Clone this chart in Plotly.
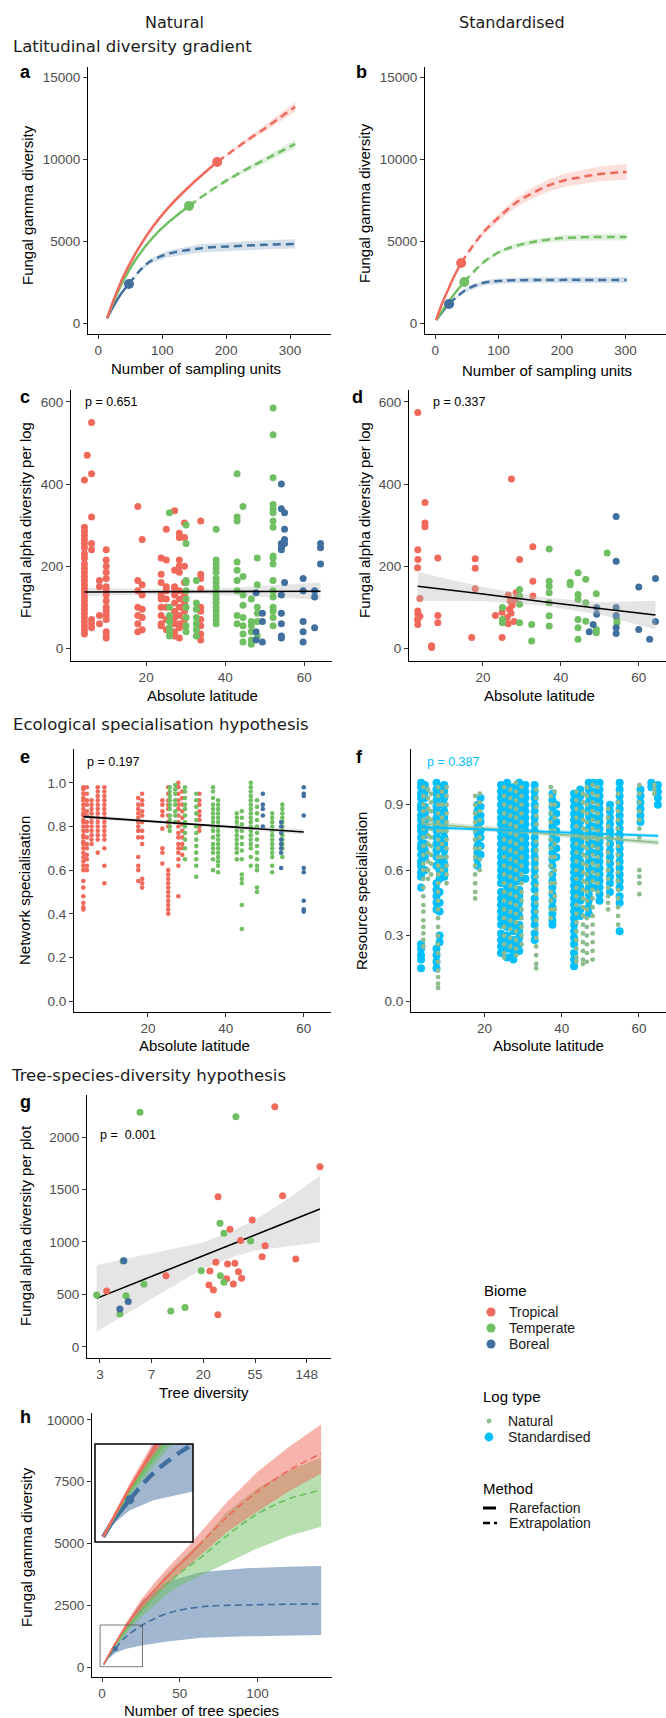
import plotly.graph_objects as go

W, H = 666, 1718


def fx(p):
    return p / W


def fy(p):
    return 1 - p / H


TROP, TEMP, BOR = "#F0695B", "#70BF62", "#41709F"
NAT, STD = "#8FBC8F", "#00BFFF"
FONT = "Liberation Sans, Arial, sans-serif"
HEAD = "DejaVu Sans, Verdana, sans-serif"


def rgba(hexc, a):
    h = hexc.lstrip("#")
    r, g, b = int(h[0:2], 16), int(h[2:4], 16), int(h[4:6], 16)
    return f"rgba({r},{g},{b},{a})"


# ---------------- a: natural logs, sample-based rarefaction/extrapolation
a_trop_rare_x = [14, 25, 40, 60, 85, 110, 135, 160, 186]
a_trop_rare_y = [290, 1500, 2900, 4350, 5850, 7050, 8050, 8950, 9820]
a_trop_ext_x = [186, 210, 235, 260, 285, 308]
a_trop_ext_y = [9820, 10500, 11200, 11850, 12550, 13180]
a_trop_ext_lo = [9820, 10420, 11050, 11650, 12300, 12880]
a_trop_ext_hi = [9820, 10580, 11350, 12050, 12800, 13480]

a_temp_rare_x = [14, 25, 40, 60, 85, 110, 142]
a_temp_rare_y = [290, 1400, 2650, 3950, 5200, 6150, 7140]
a_temp_ext_x = [142, 175, 210, 245, 280, 308]
a_temp_ext_y = [7140, 8050, 8900, 9650, 10350, 10920]
a_temp_ext_lo = [7140, 7980, 8780, 9480, 10130, 10660]
a_temp_ext_hi = [7140, 8120, 9020, 9820, 10570, 11180]

a_bor_rare_x = [14, 25, 36, 48]
a_bor_rare_y = [290, 1100, 1800, 2380]
a_bor_ext_x = [48, 65, 81, 108, 159, 211, 260, 308]
a_bor_ext_y = [2380, 3200, 3750, 4200, 4550, 4680, 4770, 4820]
a_bor_ext_lo = [2380, 3100, 3600, 4000, 4300, 4420, 4500, 4540]
a_bor_ext_hi = [2380, 3300, 3900, 4400, 4800, 4940, 5040, 5100]

# ---------------- b: standardised logs
b_trop_rare_x = [1.6, 10, 20, 30, 41]
b_trop_rare_y = [180, 1100, 2000, 2850, 3660]
b_trop_ext_x = [41, 75, 101, 127, 154, 181, 206, 233, 260, 302]
b_trop_ext_y = [3660, 5490, 6470, 7320, 7930, 8420, 8720, 8910, 9090, 9210]
b_trop_ext_lo = [3660, 5340, 6250, 7040, 7600, 8050, 8320, 8480, 8640, 8730]
b_trop_ext_hi = [3660, 5640, 6690, 7600, 8260, 8790, 9120, 9340, 9540, 9690]

b_temp_rare_x = [1.6, 12, 24, 35, 46]
b_temp_rare_y = [180, 800, 1450, 2000, 2500]
b_temp_ext_x = [46, 75, 101, 127, 154, 206, 302]
b_temp_ext_y = [2500, 3660, 4330, 4700, 4940, 5190, 5250]
b_temp_ext_lo = [2500, 3580, 4210, 4550, 4770, 5000, 5040]
b_temp_ext_hi = [2500, 3740, 4450, 4850, 5110, 5380, 5460]

b_bor_rare_x = [1.6, 8, 15, 22]
b_bor_rare_y = [180, 500, 850, 1160]
b_bor_ext_x = [22, 48, 75, 101, 154, 302]
b_bor_ext_y = [1160, 2010, 2440, 2560, 2620, 2620]
b_bor_ext_lo = [1160, 1880, 2290, 2400, 2450, 2440]
b_bor_ext_hi = [1160, 2140, 2590, 2720, 2790, 2800]

# ---------------- c: alpha diversity per natural log vs latitude
c_trop_lat = [4.4, 5.1, 6.2, 8.2, 9.9, 17.9, 19.0, 23.8, 25.1, 27.2, 28.4, 29.7, 33.8]
c_trop_div = [
    [410, 295, 285, 275, 265, 255, 245, 230, 220, 205, 195, 185, 175, 165, 155, 145, 135,
     125, 115, 105, 95, 85, 75, 65, 55, 45, 35],
    [470],
    [550, 425, 320, 255, 240, 70, 60, 50],
    [165, 150, 80, 60],
    [240, 215, 200, 185, 170, 150, 140, 130, 115, 100, 90, 80, 70, 40, 30, 25],
    [345, 165, 140, 100, 80, 60, 40],
    [265, 155, 130, 95, 75, 45],
    [220, 180, 160, 130, 120, 100, 80, 60, 55],
    [290, 215, 150, 140, 120, 100, 70, 45],
    [335, 190, 150, 145, 130, 110, 90, 75, 60, 40, 30],
    [280, 270, 215, 200, 185, 140, 120, 100, 80, 60, 50, 25],
    [305, 270, 200, 160, 130, 110, 90, 70, 55],
    [310, 180, 170, 145, 100, 90, 70, 55, 35, 20],
]
c_temp_lat = [25.9, 30.1, 32.7, 37.7, 43.0, 44.5, 46.6, 48.1, 52.1]
c_temp_div = [
    [330, 100, 80, 65, 50, 40, 30],
    [300, 255, 165, 160, 140, 120, 100, 75, 55, 40],
    [165, 110, 95, 75, 60, 45, 30],
    [290, 215, 205, 195, 185, 170, 160, 150, 140, 130, 120, 110, 100, 90, 80, 70, 60],
    [425, 320, 310, 210, 190, 165, 140, 80, 60],
    [345, 175, 130, 105, 75, 55, 35, 15],
    [120, 65, 55, 40, 20, 10],
    [220, 155, 100, 85, 65, 30],
    [585, 520, 415, 350, 340, 330, 310, 295, 225, 220, 205, 165, 140, 125, 100, 90, 75, 55],
]
c_bor_lat = [47.8, 49.4, 54.2, 55.0, 59.7, 62.6, 64.1]
c_bor_div = [
    [135, 40, 20],
    [85, 65, 15],
    [400, 340, 255, 245, 240, 130, 85, 60, 30, 25],
    [330, 290, 265, 255, 160],
    [170, 140, 65, 40, 15],
    [140, 125, 50],
    [255, 245, 205],
]
c_fit_x = [4.4, 34, 64.1]
c_fit_y = [137, 138, 139]
c_fit_lo = [127, 132, 118]
c_fit_hi = [147, 144, 160]

# ---------------- d: alpha diversity per standardised log vs latitude
d_trop_lat = [3.25, 3.25, 3.3, 3.2, 3.25, 3.3, 3.2, 3.25, 3.8, 3.8, 5.1, 5.1, 5.1, 6.8, 6.8,
              8.4, 8.4, 8.4, 17.1, 18.0, 18.0, 18.0, 23.2, 24.9, 24.9, 26.5, 27.0, 27.5,
              26.8, 27.2, 26.2, 26.5, 28.0, 27.3, 28.5, 28.3, 29.4, 32.8, 32.8, 32.8]
d_trop_div = [574, 240, 216, 196, 91, 83, 70, 58, 121, 78, 355, 305, 296, 6, 2,
              220, 80, 62, 26, 218, 195, 145, 80, 88, 26, 130, 115, 105,
              95, 85, 75, 60, 65, 412, 135, 119, 216, 247, 163, 127]
d_temp_lat = [25, 25, 25, 29.4, 29.4, 29.4, 29.4, 32.5, 32.5, 37, 37, 37, 37, 37, 37, 37,
              42.4, 42.4, 44.4, 44.4, 44.4, 44.4, 44.4, 44.4, 46.4, 46.4, 46.4, 49.1, 49.1,
              49.1, 51.9, 54.4, 54.4]
d_temp_div = [99, 70, 62, 143, 127, 107, 62, 58, 18, 242, 163, 151, 135, 111, 79, 54,
              161, 155, 184, 131, 119, 70, 50, 22, 168, 111, 66, 133, 46,
              38, 232, 70, 62]
d_bor_lat = [47.3, 48.3, 49.2, 49.2, 54.2, 54.2, 54.2, 54.2, 54.2, 54.2, 60, 60, 62.8, 64.3, 64.3]
d_bor_div = [40, 58, 83, 99, 321, 212, 99, 80, 50, 36, 149, 46, 22, 170, 65]
d_fit_x = [3.25, 20, 35, 50, 64.3]
d_fit_y = [151, 132, 114, 97, 81]
d_fit_lo = [116, 115, 104, 82, 46]
d_fit_hi = [186, 149, 124, 112, 116]

# ---------------- e: network specialisation vs latitude
e_trop_lat = [3.4, 4.3, 5.5, 7.1, 8.8, 17.5, 18.5, 23.7, 25.2, 27.8, 28.8, 33.2]
e_trop_val = [
    [0.98, 0.97, 0.95, 0.93, 0.92, 0.9, 0.88, 0.86, 0.85, 0.83, 0.82, 0.8, 0.78, 0.76, 0.75,
     0.73, 0.72, 0.7, 0.68, 0.66, 0.64, 0.62, 0.6, 0.55, 0.52, 0.48, 0.45, 0.43, 0.42],
    [0.98, 0.95, 0.92, 0.9, 0.87, 0.85, 0.82, 0.8, 0.78, 0.75, 0.72, 0.7, 0.67, 0.65, 0.62, 0.6],
    [0.92, 0.9, 0.88, 0.86, 0.84, 0.82, 0.8, 0.78, 0.76, 0.74, 0.72],
    [0.98, 0.96, 0.94, 0.92, 0.9, 0.88, 0.86, 0.84, 0.82, 0.8, 0.78, 0.76, 0.74, 0.68],
    [0.98, 0.96, 0.94, 0.92, 0.9, 0.88, 0.86, 0.84, 0.82, 0.8, 0.78, 0.76, 0.74, 0.7, 0.62, 0.54],
    [0.93, 0.9, 0.88, 0.86, 0.84, 0.82, 0.8, 0.78, 0.75, 0.66, 0.62, 0.6, 0.55],
    [0.95, 0.92, 0.9, 0.87, 0.85, 0.82, 0.78, 0.75, 0.72, 0.56, 0.54, 0.52],
    [0.92, 0.9, 0.87, 0.85, 0.79, 0.7, 0.68, 0.63],
    [0.98, 0.95, 0.92, 0.9, 0.88, 0.85, 0.82, 0.8, 0.6, 0.58, 0.56, 0.54, 0.52, 0.5, 0.48,
     0.46, 0.44, 0.42, 0.4],
    [1.0, 0.98, 0.95, 0.92, 0.9, 0.88, 0.85, 0.82, 0.8, 0.77, 0.75, 0.72, 0.7, 0.68, 0.65, 0.62, 0.48],
    [0.96, 0.93, 0.9, 0.87, 0.84, 0.81, 0.78, 0.75, 0.72, 0.7, 0.67],
    [0.95, 0.92, 0.9, 0.87, 0.85, 0.83, 0.8, 0.78],
]
e_temp_lat = [25.6, 27.0, 29.5, 32.4, 36.7, 38.0, 42.8, 44.1, 46.4, 48.0, 51.9, 54.5]
e_temp_val = [
    [0.98, 0.96, 0.94, 0.92, 0.9, 0.88, 0.85, 0.83, 0.8, 0.78],
    [0.99, 0.97, 0.95, 0.92, 0.9, 0.87, 0.85, 0.82],
    [0.98, 0.96, 0.93, 0.9, 0.88, 0.85, 0.82, 0.8, 0.77, 0.74, 0.7, 0.65],
    [0.95, 0.92, 0.89, 0.86, 0.83, 0.8, 0.77, 0.74, 0.71, 0.68, 0.65, 0.62, 0.57],
    [0.98, 0.96, 0.93, 0.9, 0.88, 0.86, 0.84, 0.82, 0.8, 0.78, 0.75, 0.72, 0.7, 0.68, 0.65, 0.6],
    [0.92, 0.9, 0.88, 0.86, 0.84, 0.82, 0.8, 0.78, 0.76, 0.74, 0.72, 0.7, 0.68, 0.66, 0.64,
     0.62, 0.59],
    [0.86, 0.84, 0.82, 0.8, 0.78, 0.76, 0.74, 0.72, 0.7, 0.68, 0.65],
    [0.87, 0.84, 0.81, 0.78, 0.75, 0.72, 0.69, 0.65, 0.58, 0.56, 0.54, 0.44, 0.33],
    [1.0, 0.98, 0.96, 0.94, 0.92, 0.9, 0.88, 0.86, 0.84, 0.82, 0.8, 0.78, 0.76, 0.74, 0.72,
     0.7, 0.66, 0.62],
    [0.92, 0.89, 0.86, 0.83, 0.8, 0.77, 0.74, 0.71, 0.68, 0.65, 0.62, 0.6, 0.52, 0.5],
    [0.86, 0.84, 0.82, 0.8, 0.78, 0.76, 0.74, 0.72, 0.7, 0.68, 0.66, 0.62, 0.59],
    [0.9, 0.88, 0.86, 0.84, 0.82, 0.8, 0.78, 0.76, 0.74, 0.72, 0.7, 0.66],
]
e_bor_lat = [49.5, 54.2, 60.0]
e_bor_val = [
    [0.95, 0.9, 0.88, 0.85, 0.8],
    [0.82, 0.8, 0.77, 0.74, 0.72, 0.7, 0.68, 0.61],
    [0.98, 0.95, 0.94, 0.85, 0.61, 0.59, 0.46, 0.42, 0.41],
]
e_fit_x = [3.4, 30, 60]
e_fit_y = [0.845, 0.812, 0.775]
e_fit_lo = [0.835, 0.807, 0.763]
e_fit_hi = [0.855, 0.817, 0.787]

# ---------------- f: resource specialisation vs latitude, by log type
f_std_lat = [3.6, 4.6, 7.6, 8.4, 9.6, 18.2, 19.0, 24.3, 25.9, 27.5, 29.0, 30.6, 33.0, 37.6,
             38.6, 43.2, 44.8, 47.0, 48.3, 49.8, 52.5, 55.0, 60.4, 63.2, 64.9]
f_std_val = [
    [1.0, 0.98, 0.95, 0.93, 0.9, 0.88, 0.85, 0.83, 0.8, 0.78, 0.75, 0.72, 0.7, 0.67, 0.64,
     0.62, 0.59, 0.57, 0.52, 0.26, 0.24, 0.21, 0.19, 0.15],
    [0.99, 0.96, 0.93, 0.89, 0.86, 0.82, 0.79, 0.76, 0.72, 0.69, 0.66, 0.6],
    [1.0, 0.97, 0.95, 0.92, 0.89, 0.87, 0.84, 0.81, 0.78, 0.75, 0.72, 0.69, 0.66, 0.62, 0.54,
     0.51, 0.48, 0.45, 0.42, 0.24, 0.21, 0.18, 0.15],
    [0.98, 0.94, 0.9, 0.86, 0.82, 0.78, 0.74, 0.7, 0.64, 0.6, 0.56, 0.5, 0.45, 0.41, 0.3, 0.27],
    [0.99, 0.96, 0.93, 0.9, 0.87, 0.84, 0.81, 0.78, 0.75, 0.72, 0.69, 0.66, 0.63, 0.6, 0.57],
    [0.9, 0.87, 0.84, 0.8, 0.77, 0.74, 0.71, 0.68, 0.65, 0.62],
    [0.93, 0.89, 0.85, 0.82, 0.78, 0.75, 0.71, 0.67],
    [0.99, 0.96, 0.93, 0.9, 0.87, 0.84, 0.81, 0.78, 0.75, 0.72, 0.69, 0.66, 0.63, 0.6, 0.57,
     0.54, 0.5, 0.47, 0.44, 0.41, 0.38, 0.35, 0.31, 0.28, 0.25, 0.22],
    [1.0, 0.97, 0.94, 0.91, 0.88, 0.85, 0.82, 0.79, 0.76, 0.73, 0.7, 0.67, 0.64, 0.61, 0.58,
     0.55, 0.52, 0.49, 0.46, 0.43, 0.4, 0.37, 0.34, 0.3, 0.27, 0.24, 0.2],
    [0.98, 0.95, 0.92, 0.89, 0.86, 0.83, 0.8, 0.77, 0.74, 0.71, 0.68, 0.65, 0.62, 0.59, 0.56,
     0.53, 0.5, 0.47, 0.44, 0.41, 0.38, 0.35, 0.32, 0.28, 0.25, 0.22, 0.19],
    [1.0, 0.97, 0.94, 0.91, 0.88, 0.85, 0.82, 0.79, 0.76, 0.73, 0.7, 0.67, 0.64, 0.61, 0.58,
     0.55, 0.51, 0.48, 0.45, 0.42, 0.39, 0.35, 0.32, 0.29, 0.26, 0.23],
    [0.99, 0.96, 0.93, 0.9, 0.87, 0.84, 0.81, 0.78, 0.75, 0.72, 0.69, 0.66, 0.63, 0.6, 0.56],
    [0.99, 0.96, 0.93, 0.9, 0.87, 0.84, 0.81, 0.78, 0.75, 0.72, 0.69, 0.66, 0.63, 0.6, 0.57,
     0.54, 0.51, 0.47, 0.44, 0.41, 0.38, 0.35, 0.31, 0.28],
    [0.95, 0.92, 0.89, 0.86, 0.83, 0.8, 0.77, 0.74, 0.71, 0.68, 0.65, 0.62, 0.58, 0.55, 0.52,
     0.49, 0.46, 0.43, 0.4, 0.37, 0.35],
    [0.9, 0.86, 0.82, 0.78, 0.74, 0.7, 0.66],
    [0.95, 0.92, 0.89, 0.86, 0.83, 0.8, 0.77, 0.74, 0.71, 0.68, 0.65, 0.62, 0.59, 0.56, 0.53,
     0.5, 0.47, 0.44, 0.41, 0.38, 0.35, 0.32, 0.29, 0.26, 0.22, 0.19, 0.16],
    [0.97, 0.94, 0.91, 0.88, 0.85, 0.82, 0.79, 0.76, 0.73, 0.7, 0.67, 0.64, 0.61, 0.58, 0.55,
     0.52, 0.49, 0.46, 0.42, 0.39],
    [1.0, 0.97, 0.94, 0.91, 0.88, 0.85, 0.82, 0.79, 0.76, 0.73, 0.7, 0.67, 0.64, 0.61, 0.58,
     0.55, 0.52, 0.49, 0.46, 0.43, 0.4],
    [1.0, 0.96, 0.92, 0.88, 0.84, 0.8, 0.76, 0.72, 0.68, 0.64, 0.6, 0.56, 0.52],
    [1.0, 0.97, 0.94, 0.91, 0.88, 0.85, 0.82, 0.79, 0.76, 0.73, 0.7, 0.67, 0.64, 0.61, 0.58,
     0.55, 0.52, 0.49, 0.46],
    [0.9, 0.87, 0.84, 0.81, 0.78, 0.75, 0.72, 0.69, 0.66, 0.63, 0.6, 0.57, 0.54, 0.5],
    [1.0, 0.97, 0.94, 0.91, 0.88, 0.85, 0.82, 0.79, 0.76, 0.73, 0.7, 0.67, 0.64, 0.61, 0.58,
     0.55, 0.52, 0.48, 0.45, 0.32],
    [0.97, 0.94, 0.91, 0.88, 0.85, 0.82],
    [1.0, 0.98],
    [0.99, 0.96, 0.93, 0.9],
]
f_nat_lat = [4.2, 5.4, 6.2, 8.0, 9.0, 10.2, 17.6, 18.8, 25.1, 26.7, 28.2, 29.6, 33.4, 37.2,
             38.2, 43.8, 45.5, 46.5, 48.0, 49.3, 52.0, 54.6, 60.1, 64.0]
f_nat_val = [
    [0.98, 0.94, 0.9, 0.87, 0.83, 0.79, 0.75, 0.71, 0.67, 0.63, 0.6, 0.56, 0.52, 0.48, 0.44,
     0.41, 0.37, 0.34, 0.31, 0.28, 0.25],
    [0.97, 0.93, 0.88, 0.84, 0.8, 0.76, 0.72, 0.68, 0.64, 0.6, 0.56],
    [0.95, 0.91, 0.87, 0.83, 0.79, 0.75, 0.71, 0.67, 0.63, 0.58],
    [0.98, 0.94, 0.9, 0.86, 0.82, 0.78, 0.74, 0.7, 0.66, 0.62, 0.58, 0.54, 0.5, 0.46, 0.42,
     0.38, 0.34, 0.3, 0.26, 0.22, 0.18, 0.14, 0.11, 0.08, 0.06],
    [0.96, 0.9, 0.84, 0.78, 0.72, 0.66, 0.6],
    [0.98, 0.94, 0.9, 0.86, 0.82, 0.78, 0.74, 0.7, 0.66, 0.62, 0.58, 0.54],
    [0.94, 0.9, 0.86, 0.82, 0.78, 0.74, 0.7, 0.66, 0.62, 0.58, 0.54, 0.5, 0.47],
    [0.95, 0.91, 0.87, 0.83, 0.79, 0.75, 0.7, 0.65, 0.6],
    [0.98, 0.94, 0.9, 0.86, 0.82, 0.78, 0.74, 0.7, 0.66, 0.62, 0.58, 0.54, 0.5, 0.46, 0.42,
     0.38, 0.34, 0.3, 0.26, 0.22, 0.2],
    [0.97, 0.93, 0.89, 0.85, 0.81, 0.77, 0.73, 0.69, 0.65, 0.61, 0.57, 0.53, 0.49, 0.45, 0.41,
     0.37, 0.33, 0.29, 0.25],
    [1.0, 0.96, 0.92, 0.88, 0.84, 0.8, 0.76, 0.72, 0.68, 0.64, 0.6, 0.56, 0.52, 0.48, 0.44,
     0.4, 0.36, 0.32, 0.28, 0.24, 0.21],
    [0.98, 0.94, 0.9, 0.86, 0.82, 0.78, 0.74, 0.7, 0.66, 0.62, 0.58, 0.54, 0.5, 0.46, 0.42,
     0.38, 0.34, 0.3, 0.26],
    [0.97, 0.93, 0.89, 0.85, 0.81, 0.77, 0.73, 0.69, 0.65, 0.61, 0.57, 0.53, 0.49, 0.45, 0.41,
     0.37, 0.33, 0.29, 0.25, 0.21, 0.17, 0.15],
    [0.98, 0.94, 0.9, 0.86, 0.82, 0.78, 0.74, 0.7, 0.66, 0.62, 0.58, 0.54, 0.5, 0.46, 0.42, 0.38],
    [0.96, 0.9, 0.84, 0.78, 0.72, 0.66, 0.6, 0.54, 0.48, 0.42],
    [0.96, 0.92, 0.88, 0.84, 0.8, 0.76, 0.72, 0.68, 0.64, 0.6, 0.56, 0.52, 0.48, 0.44, 0.4,
     0.36, 0.32, 0.28, 0.24, 0.2, 0.18],
    [0.95, 0.91, 0.87, 0.83, 0.79, 0.75, 0.71, 0.67, 0.63, 0.59, 0.55, 0.51, 0.47, 0.43, 0.39,
     0.35, 0.31, 0.27, 0.23, 0.19, 0.17],
    [0.98, 0.94, 0.9, 0.86, 0.82, 0.78, 0.74, 0.7, 0.66, 0.62, 0.58, 0.54, 0.5, 0.46, 0.42,
     0.38, 0.34, 0.3, 0.26, 0.22, 0.18],
    [0.99, 0.95, 0.91, 0.87, 0.83, 0.79, 0.75, 0.71, 0.67, 0.63, 0.59, 0.55, 0.51, 0.47, 0.43,
     0.39, 0.35, 0.31, 0.27, 0.23, 0.19],
    [0.98, 0.94, 0.9, 0.86, 0.82, 0.78, 0.74, 0.7, 0.66, 0.62, 0.58, 0.54, 0.5],
    [0.88, 0.84, 0.8, 0.76, 0.72, 0.68, 0.64, 0.6, 0.56, 0.52, 0.48, 0.45, 0.42],
    [0.95, 0.91, 0.87, 0.83, 0.79, 0.75, 0.71, 0.67, 0.63, 0.59, 0.55, 0.51, 0.47, 0.43, 0.39, 0.35],
    [0.99, 0.95, 0.91, 0.87, 0.83, 0.79, 0.75, 0.6, 0.57, 0.54, 0.49],
    [0.99, 0.97, 0.95],
]
f_std_fit_x = [3.6, 65]
f_std_fit_y = [0.797, 0.757]
f_std_fit_lo = [0.789, 0.749]
f_std_fit_hi = [0.805, 0.765]
f_nat_fit_x = [3.6, 65]
f_nat_fit_y = [0.815, 0.726]
f_nat_fit_lo = [0.803, 0.714]
f_nat_fit_hi = [0.827, 0.738]

# ---------------- g: alpha diversity per plot vs tree diversity
g_trop_x = [3.1, 9.75, 22.4, 22.8, 24.4, 25.6, 26.6, 26.7, 31.5, 32.1, 33.6, 35.9, 37.0,
            39.6, 41.3, 42.1, 51.7, 62.6, 66.3, 80, 93, 120, 191.5]
g_trop_y = [533, 679, 590, 724, 543, 806, 308, 1431, 651, 790, 1121, 600, 797,
            717, 1013, 654, 1210, 860, 965, 2289, 1441, 838, 1717]
g_temp_x = [2.55, 4.0, 4.25, 4.5, 5.9, 6.37, 10.7, 14.1, 19.3, 27.7, 27.9, 29.9, 29.9, 37.7, 50.1]
g_temp_y = [495, 314, 820, 489, 2235, 597, 343, 375, 727, 1178, 679, 1083, 616, 2193, 1010]
g_bor_x = [4.0, 4.32, 4.7]
g_bor_y = [362, 822, 432]
g_fit_x = [2.55, 7.4, 20, 36, 55, 100, 191.5]
g_fit_y = [463, 673, 870, 984, 1067, 1185, 1314]
g_fit_lo = [146, 460, 745, 860, 920, 960, 997]
g_fit_hi = [781, 890, 995, 1110, 1215, 1400, 1632]
g_tick_vals = [2.718, 7.389, 20.09, 54.6, 148.4]
g_tick_text = ["3", "7", "20", "55", "148"]

# ---------------- h: gamma diversity vs number of tree species
h_trop_x = [1, 8, 16, 25, 35, 45, 55, 62, 80, 100, 120, 141]
h_trop_y = [100, 900, 1700, 2500, 3200, 3850, 4450, 4900, 6050, 7100, 7950, 8640]
h_trop_lo = [100, 820, 1550, 2280, 2900, 3500, 4050, 4450, 5450, 6300, 7100, 7835]
h_trop_hi = [100, 980, 1850, 2720, 3500, 4200, 4850, 5350, 6650, 7900, 8900, 9818]
h_trop_obs = 7
h_temp_x = [1, 8, 18, 25, 30, 40, 50, 64, 80, 100, 120, 141]
h_temp_y = [100, 850, 1700, 2250, 2600, 3250, 3800, 4450, 5300, 6200, 6800, 7160]
h_temp_lo = [100, 770, 1550, 2000, 2300, 2850, 3300, 3700, 4200, 4800, 5300, 5676]
h_temp_hi = [100, 930, 1850, 2500, 2900, 3650, 4300, 5100, 6250, 7250, 7950, 8468]
h_temp_obs = 4
h_bor_x = [1, 4, 8.4, 15, 26, 42, 64, 93, 120, 141]
h_bor_y = [100, 400, 740, 1200, 1700, 2170, 2440, 2510, 2540, 2548]
h_bor_lo = [100, 330, 560, 730, 880, 1030, 1180, 1240, 1280, 1294]
h_bor_hi = [100, 470, 920, 1700, 2700, 3450, 3850, 4000, 4060, 4086]
h_bor_obs = 2
inset_xrange = [-1.3, 26]
inset_yrange = [12, 1700]

fig = go.Figure()


def ax(n):
    return ("x" if n == 1 else f"x{n}", "y" if n == 1 else f"y{n}")


def line(xs, ys, color, n, width=2.5, dash=None, shape="spline"):
    xa, ya = ax(n)
    fig.add_trace(go.Scatter(x=xs, y=ys, mode="lines", xaxis=xa, yaxis=ya,
                             line=dict(color=color, width=width, dash=dash, shape=shape),
                             showlegend=False, hoverinfo="skip"))


def band(xs, lo, hi, fill, n):
    xa, ya = ax(n)
    fig.add_trace(go.Scatter(x=list(xs) + list(xs)[::-1], y=list(hi) + list(lo)[::-1],
                             mode="lines", fill="toself", fillcolor=fill,
                             line=dict(width=0, color=fill), xaxis=xa, yaxis=ya,
                             showlegend=False, hoverinfo="skip"))


def points(xs, ys, color, n, size):
    xa, ya = ax(n)
    fig.add_trace(go.Scatter(x=xs, y=ys, mode="markers", xaxis=xa, yaxis=ya,
                             marker=dict(color=color, size=size, line=dict(width=0)),
                             showlegend=False, hoverinfo="skip"))


def columns(cols, vals):
    xs, ys = [], []
    for c, v in zip(cols, vals):
        xs += [c] * len(v)
        ys += list(v)
    return xs, ys


DASH = "8px,5px"

# a and b: rarefaction/extrapolation curves
for n, curves in (
    (1, [(a_bor_rare_x, a_bor_rare_y, a_bor_ext_x, a_bor_ext_y, a_bor_ext_lo, a_bor_ext_hi, BOR),
         (a_temp_rare_x, a_temp_rare_y, a_temp_ext_x, a_temp_ext_y, a_temp_ext_lo, a_temp_ext_hi, TEMP),
         (a_trop_rare_x, a_trop_rare_y, a_trop_ext_x, a_trop_ext_y, a_trop_ext_lo, a_trop_ext_hi, TROP)]),
    (2, [(b_bor_rare_x, b_bor_rare_y, b_bor_ext_x, b_bor_ext_y, b_bor_ext_lo, b_bor_ext_hi, BOR),
         (b_temp_rare_x, b_temp_rare_y, b_temp_ext_x, b_temp_ext_y, b_temp_ext_lo, b_temp_ext_hi, TEMP),
         (b_trop_rare_x, b_trop_rare_y, b_trop_ext_x, b_trop_ext_y, b_trop_ext_lo, b_trop_ext_hi, TROP)]),
):
    for rx, ry, ex, ey, lo, hi, col in curves:
        band(ex, lo, hi, rgba(col, 0.22), n)
    for rx, ry, ex, ey, lo, hi, col in curves:
        line(ex, ey, col, n, 2.5, DASH)
        line(rx, ry, col, n, 2.5)
    for rx, ry, ex, ey, lo, hi, col in curves:
        points([rx[-1]], [ry[-1]], col, n, 10)

# c
band(c_fit_x, c_fit_lo, c_fit_hi, "rgba(180,180,180,0.35)", 3)
for lat, div, col in ((c_trop_lat, c_trop_div, TROP), (c_temp_lat, c_temp_div, TEMP),
                      (c_bor_lat, c_bor_div, BOR)):
    xs, ys = columns(lat, div)
    points(xs, ys, col, 3, 7)
line(c_fit_x, c_fit_y, "black", 3, 1.6, shape="linear")

# d
points(d_trop_lat, d_trop_div, TROP, 4, 7)
points(d_temp_lat, d_temp_div, TEMP, 4, 7)
points(d_bor_lat, d_bor_div, BOR, 4, 7)
band(d_fit_x, d_fit_lo, d_fit_hi, "rgba(180,180,180,0.35)", 4)
line(d_fit_x, d_fit_y, "black", 4, 1.6)

# e
for lat, val, col in ((e_trop_lat, e_trop_val, TROP), (e_temp_lat, e_temp_val, TEMP),
                      (e_bor_lat, e_bor_val, BOR)):
    xs, ys = columns(lat, val)
    points(xs, ys, col, 5, 4.6)
band(e_fit_x, e_fit_lo, e_fit_hi, "rgba(180,180,180,0.35)", 5)
line(e_fit_x, e_fit_y, "black", 5, 1.6, shape="linear")

# f
xs, ys = columns(f_std_lat, f_std_val)
points(xs, ys, STD, 6, 8)
xs, ys = columns(f_nat_lat, f_nat_val)
points(xs, ys, NAT, 6, 4.8)
band(f_nat_fit_x, f_nat_fit_lo, f_nat_fit_hi, rgba(NAT, 0.35), 6)
band(f_std_fit_x, f_std_fit_lo, f_std_fit_hi, rgba(STD, 0.3), 6)
line(f_nat_fit_x, f_nat_fit_y, NAT, 6, 1.6, shape="linear")
line(f_std_fit_x, f_std_fit_y, STD, 6, 1.6, shape="linear")

# g
band(g_fit_x, g_fit_lo, g_fit_hi, "rgba(180,180,180,0.35)", 7)
line(g_fit_x, g_fit_y, "black", 7, 1.6, shape="linear")
points(g_trop_x, g_trop_y, TROP, 7, 7)
points(g_temp_x, g_temp_y, TEMP, 7, 7)
points(g_bor_x, g_bor_y, BOR, 7, 7)

# h and its magnified inset (axes 9)
h_sets = [(h_bor_x, h_bor_y, h_bor_lo, h_bor_hi, h_bor_obs, BOR),
          (h_temp_x, h_temp_y, h_temp_lo, h_temp_hi, h_temp_obs, TEMP),
          (h_trop_x, h_trop_y, h_trop_lo, h_trop_hi, h_trop_obs, TROP)]
for n, lw, dash in ((8, 1.6, "7px,4px"), (9, 2.6, "14px,8px")):
    for hx, hy, lo, hi, k, col in h_sets:
        band(hx, lo, hi, rgba(col, 0.5), n)
    for hx, hy, lo, hi, k, col in h_sets:
        w = lw * (1.7 if (n == 9 and col == BOR) else 1.0)
        line(hx[k:], hy[k:], col, n, w, dash)
        line(hx[:k + 1], hy[:k + 1], col, n, w)
    points([h_bor_x[h_bor_obs]], [h_bor_y[h_bor_obs]], BOR, n, 5 if n == 8 else 9)

# ---------------- axes
TICKFONT = dict(family=FONT, size=13.5, color="#4D4D4D")
layout = dict(width=W, height=H, margin=dict(l=0, r=0, t=0, b=0),
              paper_bgcolor="white", plot_bgcolor="white", showlegend=False)


def axes(n, xd, yd, xr, yr, xt, yt, xtt=None, ytt=None, xtype="linear", hidden=False):
    kx = "xaxis" if n == 1 else f"xaxis{n}"
    ky = "yaxis" if n == 1 else f"yaxis{n}"
    xa, ya = ax(n)
    base = dict(showgrid=False, zeroline=False, showline=not hidden, linecolor="black",
                linewidth=1.2, ticks="" if hidden else "outside", ticklen=4,
                tickcolor="#333333", tickwidth=1, tickfont=TICKFONT, fixedrange=True,
                showticklabels=not hidden)
    layout[kx] = dict(domain=[fx(xd[0]), fx(xd[1])], range=xr, anchor=ya, type=xtype,
                      tickmode="array", tickvals=xt,
                      ticktext=xtt if xtt else [str(v) for v in xt], **base)
    layout[ky] = dict(domain=[fy(yd[1]), fy(yd[0])], range=yr, anchor=xa,
                      tickmode="array", tickvals=yt,
                      ticktext=ytt if ytt else [str(v) for v in yt], **base)


ab_y = [0, 5000, 10000, 15000]
axes(1, (88, 331), (67, 334), [-16, 364], [-670, 15610], [0, 100, 200, 300], ab_y)
axes(2, (425, 666), (67, 334), [-16, 364], [-670, 15610], [0, 100, 200, 300], ab_y)
axes(3, (71, 332), (390, 661), [1, 67], [-31, 629], [20, 40, 60], [0, 200, 400, 600])
axes(4, (409, 666), (390, 661), [1, 67], [-31, 629], [20, 40, 60], [0, 200, 400, 600])
e_ticks = [0, 0.2, 0.4, 0.6, 0.8, 1.0]
axes(5, (74, 331), (749, 1012), [1, 67], [-0.05, 1.155], [20, 40, 60], e_ticks,
     ytt=[f"{v:.1f}" for v in e_ticks])
f_ticks = [0, 0.3, 0.6, 0.9]
axes(6, (411, 666), (749, 1012), [1, 67], [-0.05, 1.155], [20, 40, 60], f_ticks,
     ytt=[f"{v:.1f}" for v in f_ticks])
axes(7, (87, 331), (1095, 1358), [0.326, 2.375], [-105, 2400], g_tick_vals,
     [0, 500, 1000, 1500, 2000], xtt=g_tick_text, xtype="log")
axes(8, (92, 332), (1413, 1677), [-6.5, 148], [-405, 10283], [0, 50, 100],
     [0, 2500, 5000, 7500, 10000])
axes(9, (95, 193), (1444, 1542), inset_xrange, inset_yrange, [], [], hidden=True)

shapes = [
    dict(type="rect", xref="paper", yref="paper", x0=fx(95), x1=fx(193), y0=fy(1542),
         y1=fy(1444), line=dict(color="black", width=1.5)),
    dict(type="rect", xref="x8", yref="y8", x0=inset_xrange[0], x1=inset_xrange[1],
         y0=inset_yrange[0], y1=inset_yrange[1], line=dict(color="#555555", width=0.8)),
]

ann = []


def text(x, y, s, size=15, family=FONT, color="black", xanchor="center", angle=0, bold=False):
    ann.append(dict(x=fx(x), y=fy(y), xref="paper", yref="paper", text=f"<b>{s}</b>" if bold else s,
                    showarrow=False, xanchor=xanchor, yanchor="middle", textangle=angle,
                    font=dict(family=family, size=size, color=color)))


# column and section headings
text(174, 22, "Natural", 16, HEAD, "#1a1a1a")
text(512, 22, "Standardised", 16, HEAD, "#1a1a1a")
text(11, 47, "Latitudinal diversity gradient", 16.5, HEAD, "#1a1a1a", "left")
text(11, 725, "Ecological specialisation hypothesis", 16.5, HEAD, "#1a1a1a", "left")
text(9, 1075, "Tree-species-diversity hypothesis", 16.5, HEAD, "#1a1a1a", "left")

# panel tags
for lab, x, y in (("a", 25, 72), ("b", 361, 72), ("c", 25, 397), ("d", 357, 397),
                  ("e", 25, 757), ("f", 359, 757), ("g", 25, 1102), ("h", 25, 1417)):
    text(x, y, lab, 18, FONT, "black", bold=True)

# axis titles
for s, x, y in (("Number of sampling units", 196, 368), ("Number of sampling units", 547, 370),
                ("Absolute latitude", 202, 695), ("Absolute latitude", 539, 695),
                ("Absolute latitude", 194, 1045), ("Absolute latitude", 548, 1045),
                ("Tree diversity", 204, 1392), ("Number of tree species", 201, 1710)):
    text(x, y, s, 15)
for s, x, y in (("Fungal gamma diversity", 28, 205), ("Fungal gamma diversity", 364, 203),
                ("Fungal alpha diversity per log", 25, 520),
                ("Fungal alpha diversity per log", 364, 520),
                ("Network specialisation", 25, 891), ("Resource specialisation", 362, 891),
                ("Fungal alpha diversity per plot", 25, 1226),
                ("Fungal gamma diversity", 26, 1547)):
    text(x, y, s, 15, angle=-90)

# p-values
text(83, 402, "p = 0.651", 12.5, xanchor="left")
text(431, 402, "p = 0.337", 12.5, xanchor="left")
text(85, 762, "p = 0.197", 12.5, xanchor="left")
text(425, 762, "p = 0.387", 12.5, color=STD, xanchor="left")
text(98, 1135, "p =  0.001", 12.5, xanchor="left")

# legends
biome_names = ["Tropical", "Temperate", "Boreal"]
biome_cols = [TROP, TEMP, BOR]
text(482, 1290, "Biome", 15, xanchor="left")
for i, (nm, col) in enumerate(zip(biome_names, biome_cols)):
    yy = 1312 + 16 * i
    shapes.append(dict(type="circle", xref="paper", yref="paper", x0=fx(486.5), x1=fx(495.5),
                       y0=fy(yy + 4.5), y1=fy(yy - 4.5), fillcolor=col, line=dict(width=0)))
    text(507, yy, nm, 14, xanchor="left", color="#1a1a1a")

log_names = ["Natural", "Standardised"]
log_cols = [NAT, STD]
log_r = [2.4, 4.4]
text(481, 1396, "Log type", 15, xanchor="left")
for i, (nm, col, r) in enumerate(zip(log_names, log_cols, log_r)):
    yy = 1421 + 16 * i
    shapes.append(dict(type="circle", xref="paper", yref="paper", x0=fx(489 - r), x1=fx(489 + r),
                       y0=fy(yy + r), y1=fy(yy - r), fillcolor=col, line=dict(width=0)))
    text(506, yy, nm, 14, xanchor="left", color="#1a1a1a")

text(481, 1488, "Method", 15, xanchor="left")
shapes.append(dict(type="line", xref="paper", yref="paper", x0=fx(483), x1=fx(496),
                   y0=fy(1508), y1=fy(1508), line=dict(color="black", width=3)))
shapes.append(dict(type="line", xref="paper", yref="paper", x0=fx(483), x1=fx(497),
                   y0=fy(1523), y1=fy(1523), line=dict(color="black", width=2.5, dash="7px,4px")))
text(507, 1508, "Rarefaction", 14, xanchor="left", color="#1a1a1a")
text(507, 1523, "Extrapolation", 14, xanchor="left", color="#1a1a1a")

layout["shapes"] = shapes
layout["annotations"] = ann
fig.update_layout(**layout)
fig.write_html("out.html")
